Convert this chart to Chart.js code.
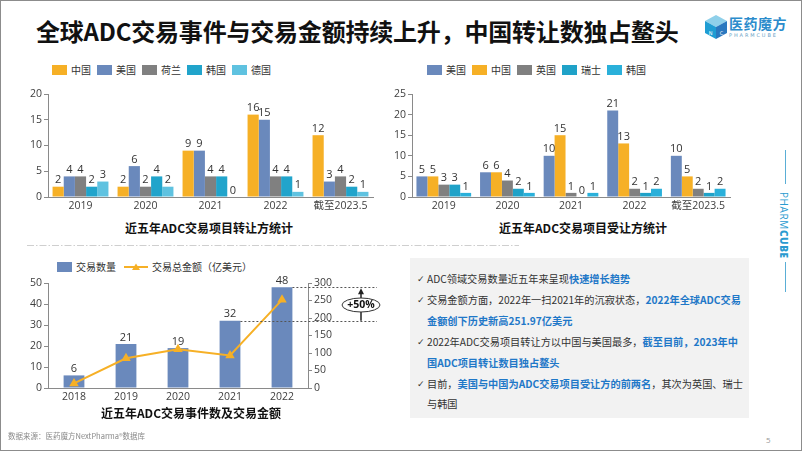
<!DOCTYPE html>
<html>
<head>
<meta charset="utf-8">
<script src="https://cdn.jsdelivr.net/npm/chart.js@4.4.0/dist/chart.umd.min.js"></script>
<style>
html, body { margin: 0; padding: 0; }
body { width: 802px; height: 451px; position: relative; overflow: hidden; background: #fff;
  font-family: 'Open Sans', 'Noto Sans CJK SC', sans-serif; color: #333; }
.frame { position: absolute; left: 0; top: 0; width: 800px; height: 449px; border: 1px solid #8c8c8c; }
.title { position: absolute; left: 36px; top: 13px; font-size: 24px; font-weight: bold; color: #111;
  font-family: 'Noto Sans CJK SC', sans-serif; white-space: nowrap; letter-spacing: -0.2px; }
canvas { position: absolute; }
.legend { position: absolute; display: flex; font-size: 10px; color: #333; font-family: 'Noto Sans CJK SC', sans-serif; }
.legend .item { display: flex; align-items: center; margin-right: 6px; }
.legend .box { width: 15px; height: 10px; margin-right: 4px; }
.ctitle { position: absolute; font-size: 12px; font-weight: bold; color: #111; font-family: 'Noto Sans CJK SC', sans-serif;
  white-space: nowrap; transform: translateX(-50%); }
.sep { position: absolute; left: 27px; top: 244px; }
.note { position: absolute; left: 410px; top: 258px; width: 339px; height: 160px; background: #f2f2f2;
  box-sizing: border-box; padding: 11px 0 0 7px; font-size: 10.2px; line-height: 20.9px; white-space: nowrap;
  font-family: 'Noto Sans CJK SC', sans-serif; color: #333; }
.note p { margin: 0; position: relative; padding-left: 10px; }
.note p .ck { position: absolute; left: 0; top: 0; font-family: 'DejaVu Sans', sans-serif; font-size: 9px; }
.note b { color: #1f78c8; }
.sideline { position: absolute; left: 785px; width: 1px; background: #5aaed6; }
.brand { position: absolute; left: 791px; top: 192px; transform-origin: 0 0; transform: rotate(90deg);
  font-size: 10px; color: #2a9bd0; letter-spacing: 0.6px; font-family: 'Open Sans', sans-serif; white-space: nowrap; }
.brand b { font-weight: 800; }
.logo-text { position: absolute; left: 729px; top: 13px; font-size: 14px; font-weight: bold; color: #2b8ccc;
  font-family: 'Noto Sans CJK SC', sans-serif; letter-spacing: 0.5px; }
.logo-sub { position: absolute; left: 729px; top: 32px; font-size: 5px; color: #6a9fc6; letter-spacing: 1.9px;
  font-family: 'DejaVu Sans', sans-serif; }
.footer { position: absolute; left: 8px; top: 430px; font-size: 7.5px; color: #8a8a8a; font-family: 'Noto Sans CJK SC', sans-serif; }
.page { position: absolute; left: 766px; top: 434px; font-size: 8px; color: #999; }
</style>
</head>
<body>
<div class="frame"></div>
<div class="title">全球ADC交易事件与交易金额持续上升，中国转让数独占鳌头</div>

<svg style="position:absolute;left:704px;top:14px" width="24" height="26" viewBox="0 0 24 26">
  <polygon points="12,1 23,7 12,13 1,7" fill="#8fd0ea"/>
  <polygon points="1,7 12,13 12,25 1,19" fill="#1f9dd3"/>
  <polygon points="23,7 12,13 12,25 23,19" fill="#2a78bf"/>
  <text x="6.5" y="20.5" font-size="5" fill="#fff" text-anchor="middle" font-family="DejaVu Sans">N</text>
  <text x="17.5" y="20.5" font-size="5" fill="#fff" text-anchor="middle" font-family="DejaVu Sans">C</text>
</svg>
<div class="logo-text">医药魔方</div>
<div class="logo-sub">PHARMCUBE</div>

<div class="legend" id="leg1" style="left:52px;top:62px"></div>
<div class="legend" id="leg2" style="left:427px;top:62px"></div>

<canvas id="c1" width="370" height="130" style="left:10px;top:85px"></canvas>
<canvas id="c2" width="355" height="130" style="left:380px;top:85px"></canvas>

<div class="ctitle" style="left:209px;top:219px">近五年ADC交易项目转让方统计</div>
<div class="ctitle" style="left:583px;top:219px">近五年ADC交易项目受让方统计</div>

<svg class="sep" width="492" height="3"><line x1="0" y1="1.5" x2="492" y2="1.5" stroke="#cfcfcf" stroke-width="1" stroke-dasharray="7,2,1.5,2"/></svg>

<div class="legend" id="leg3" style="left:57px;top:259px"></div>
<canvas id="c3" width="380" height="136" style="left:10px;top:270px"></canvas>
<div class="ctitle" style="left:191px;top:404px">近五年ADC交易事件数及交易金额</div>

<div class="note">
  <p><span class="ck">✓</span>ADC领域交易数量近五年来呈现<b>快速增长趋势</b></p>
  <p><span class="ck">✓</span>交易金额方面，2022年一扫2021年的沉寂状态，<b>2022年全球ADC交易<br>金额创下历史新高251.97亿美元</b></p>
  <p><span class="ck">✓</span>2022年ADC交易项目转让方以中国与美国最多，<b>截至目前，2023年中<br>国ADC项目转让数目独占鳌头</b></p>
  <p><span class="ck">✓</span>目前，<b>美国与中国为ADC交易项目受让方的前两名</b>，其次为英国、瑞士<br>与韩国</p>
</div>

<div class="sideline" style="top:150px;height:34px"></div>
<div class="brand">PHARM<b>CUBE</b></div>
<div class="sideline" style="top:262px;height:30px"></div>

<div class="footer">数据来源：医药魔方NextPharma®数据库</div>
<div class="page">5</div>

<script>
// 数据
const periods = ['2019', '2020', '2021', '2022', '截至2023.5'];

// 转让方
const sellerNames = ['中国', '美国', '荷兰', '韩国', '德国'];
const sellerChina = [2, 2, 9, 16, 12];
const sellerUSA = [4, 6, 9, 15, 3];
const sellerNL = [4, 2, 4, 4, 4];
const sellerKorea = [2, 4, 4, 4, 2];
const sellerGermany = [3, 2, 0, 1, 1];
const sellerColors = ['#f6b026', '#6a89bc', '#808080', '#21a4cb', '#5fc2e0'];

// 受让方
const buyerNames = ['美国', '中国', '英国', '瑞士', '韩国'];
const buyerUSA = [5, 6, 10, 21, 10];
const buyerChina = [5, 6, 15, 13, 5];
const buyerUK = [3, 4, 1, 2, 2];
const buyerSwiss = [3, 2, 0, 1, 1];
const buyerKorea = [1, 1, 1, 2, 2];
const buyerColors = ['#6a89bc', '#f6b026', '#808080', '#1fa2c8', '#2ab0da'];

// 交易事件数及金额
const years = ['2018', '2019', '2020', '2021', '2022'];
const dealCount = [6, 21, 19, 32, 48];
const dealAmount = [13, 85, 111, 93, 251.97];
const countTicks = [0, 10, 20, 30, 40, 50];
const amountTicks = [0, 50, 100, 150, 200, 250, 300];

const FONT = "'Open Sans', 'Noto Sans CJK SC', sans-serif";
const TICK_COLOR = '#404040';
const AXIS_COLOR = '#8a8a8a';

// 柱子上方的数值
const valueLabels = {
  id: 'valueLabels',
  afterDatasetsDraw(chart) {
    const ctx = chart.ctx;
    ctx.save();
    ctx.font = '11px ' + FONT;
    ctx.fillStyle = '#333';
    ctx.textAlign = 'center';
    ctx.textBaseline = 'bottom';
    chart.data.datasets.forEach((ds, i) => {
      const meta = chart.getDatasetMeta(i);
      if (meta.type !== 'bar') return;
      meta.data.forEach((bar, j) => {
        ctx.fillText(String(ds.data[j]), bar.x, bar.y - 1);
      });
    });
    ctx.restore();
  }
};

function legendHtml(id, names, colors) {
  const el = document.getElementById(id);
  names.forEach((n, i) => {
    el.innerHTML += '<div class="item"><span class="box" style="background:' + colors[i] + '"></span>' + n + '</div>';
  });
}
legendHtml('leg1', sellerNames, sellerColors);
legendHtml('leg2', buyerNames, buyerColors);

document.getElementById('leg3').innerHTML =
  '<div class="item" style="margin-right:8px"><span class="box" style="background:#6a89bc"></span>交易数量</div>' +
  '<div class="item"><svg width="24" height="10" style="margin-right:4px"><line x1="0" y1="5" x2="24" y2="5" stroke="#f6b026" stroke-width="2"/>' +
  '<polygon points="12,1.5 16,8 8,8" fill="#f6b026"/></svg>交易总金额（亿美元）</div>';

function yAxis(max, step, width, extra) {
  return Object.assign({
    min: 0, max: max,
    afterFit: s => { s.width = width; },
    grid: { display: true, drawOnChartArea: false, drawTicks: true, tickLength: 4, color: AXIS_COLOR },
    border: { display: true, color: AXIS_COLOR },
    ticks: { stepSize: step, padding: 2, color: TICK_COLOR, font: { family: FONT, size: 10.5 } }
  }, extra || {});
}
function xAxis() {
  return {
    afterFit: s => { s.height = 18; },
    grid: { display: false, drawTicks: false },
    border: { display: true, color: AXIS_COLOR },
    ticks: { padding: 3, color: TICK_COLOR, maxRotation: 0, autoSkip: false, font: { family: FONT, size: 10.5 } }
  };
}

function groupedBars(canvasId, names, colors, series, yMax, yWidth, padding) {
  new Chart(document.getElementById(canvasId), {
    type: 'bar',
    data: {
      labels: periods,
      datasets: series.map((d, i) => ({
        label: names[i], data: d, backgroundColor: colors[i],
        categoryPercentage: 0.86, barPercentage: 1.0
      }))
    },
    options: {
      responsive: false, animation: false,
      layout: { padding: padding },
      plugins: { legend: { display: false }, tooltip: { enabled: false } },
      scales: { x: xAxis(), y: yAxis(yMax, 5, yWidth) }
    },
    plugins: [valueLabels]
  });
}

groupedBars('c1', sellerNames, sellerColors,
  [sellerChina, sellerUSA, sellerNL, sellerKorea, sellerGermany], 20, 38,
  { top: 9, right: 7, left: 0, bottom: 0 });

groupedBars('c2', buyerNames, buyerColors,
  [buyerUSA, buyerChina, buyerUK, buyerSwiss, buyerKorea], 25, 32,
  { top: 9, right: 5, left: 0, bottom: 0 });

// +50% 标注
const growthMark = {
  id: 'growthMark',
  afterDraw(chart) {
    const ctx = chart.ctx;
    const ys = chart.scales.y;
    const bars = chart.getDatasetMeta(1).data;
    const n = dealCount.length - 1;
    const yTop = ys.getPixelForValue(dealCount[n]);
    const yBot = ys.getPixelForValue(dealCount[n - 1]);
    const xEnd = chart.scales.y1.left + 69;
    const ax = chart.scales.y1.left + 53;
    ctx.save();
    ctx.strokeStyle = '#555';
    ctx.lineWidth = 1;
    ctx.setLineDash([2, 2]);
    [[bars[n], yTop], [bars[n - 1], yBot]].forEach(([b, y]) => {
      ctx.beginPath();
      ctx.moveTo(b.x + b.width / 2, Math.round(y) + 0.5);
      ctx.lineTo(xEnd, Math.round(y) + 0.5);
      ctx.stroke();
    });
    ctx.setLineDash([]);
    ctx.strokeStyle = '#222';
    ctx.lineWidth = 1.5;
    ctx.beginPath();
    ctx.moveTo(ax, yBot);
    ctx.lineTo(ax, yTop + 5);
    ctx.stroke();
    ctx.fillStyle = '#222';
    ctx.beginPath();
    ctx.moveTo(ax, yTop + 1);
    ctx.lineTo(ax - 3, yTop + 7);
    ctx.lineTo(ax + 3, yTop + 7);
    ctx.closePath();
    ctx.fill();
    const cy = (yTop + yBot) / 2 + 1;
    ctx.beginPath();
    ctx.ellipse(ax, cy, 19, 7, 0, 0, Math.PI * 2);
    ctx.fillStyle = '#fff';
    ctx.fill();
    ctx.lineWidth = 1;
    ctx.strokeStyle = '#333';
    ctx.stroke();
    ctx.fillStyle = '#111';
    ctx.font = 'bold 10.5px ' + FONT;
    ctx.textAlign = 'center';
    ctx.textBaseline = 'middle';
    const pct = Math.round((dealCount[n] / dealCount[n - 1] - 1) * 100);
    ctx.fillText('+' + pct + '%', ax, cy + 0.5);
    ctx.restore();
  }
};

new Chart(document.getElementById('c3'), {
  type: 'bar',
  data: {
    labels: years,
    datasets: [
      {
        type: 'line', label: '交易总金额（亿美元）', data: dealAmount, yAxisID: 'y1', order: 0,
        borderColor: '#f6b026', borderWidth: 2, pointStyle: 'triangle', pointRadius: 3.5,
        pointBackgroundColor: '#f6b026', pointBorderColor: '#f6b026', tension: 0
      },
      {
        type: 'bar', label: '交易数量', data: dealCount, yAxisID: 'y', order: 1,
        backgroundColor: '#6a89bc', categoryPercentage: 0.8, barPercentage: 0.5
      }
    ]
  },
  options: {
    responsive: false, animation: false,
    layout: { padding: { top: 13, right: 52, left: 0, bottom: 0 } },
    plugins: { legend: { display: false }, tooltip: { enabled: false } },
    scales: {
      x: xAxis(),
      y: yAxis(countTicks[countTicks.length - 1], countTicks[1], 38),
      y1: yAxis(amountTicks[amountTicks.length - 1], amountTicks[1], 30, { position: 'right' })
    }
  },
  plugins: [valueLabels, growthMark]
});
</script>
</body>
</html>
